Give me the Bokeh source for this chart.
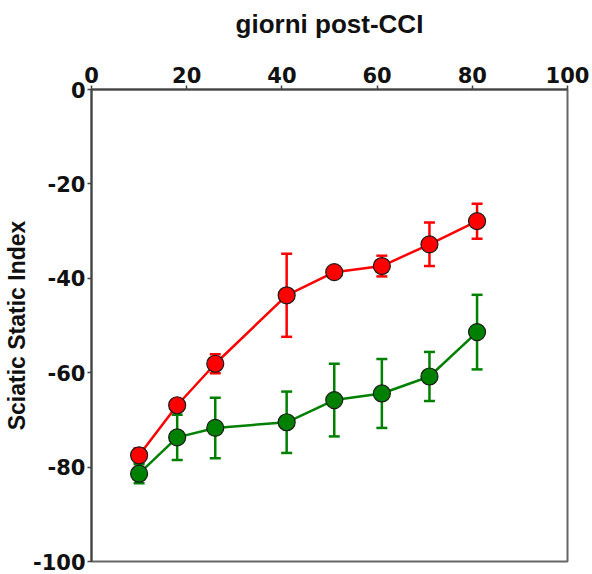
from bokeh.plotting import figure
from bokeh.models import Range1d, ColumnDataSource, Whisker, TeeHead, FixedTicker, PrintfTickFormatter
from bokeh.embed import file_html
from bokeh.resources import INLINE

days = [10, 18, 26, 41, 51, 61, 71, 81]
red_mean = [-77.5, -66.9, -58.1, -43.6, -38.7, -37.4, -32.8, -27.9]
red_err = [1.5, 1.0, 2.0, 8.8, 1.0, 2.2, 4.6, 3.7]
green_mean = [-81.4, -73.7, -71.7, -70.5, -65.8, -64.4, -60.8, -51.4]
green_err = [2.0, 4.8, 6.4, 6.5, 7.7, 7.3, 5.2, 7.9]
x_ticks = [0, 20, 40, 60, 80, 100]
y_ticks = [-100, -80, -60, -40, -20, 0]

TICK_FONT = "DejaVu Sans"
LABEL_FONT = "Liberation Sans"

p = figure(width=592, height=574, output_backend="svg", toolbar_location=None,
           x_range=Range1d(0, 100), y_range=Range1d(-100, 0),
           x_axis_location="above",
           min_border_left=90, min_border_top=89, min_border_right=25, min_border_bottom=13)
p.grid.visible = False
p.outline_line_color = "#666666"
p.outline_line_width = 2

p.xaxis.ticker = FixedTicker(ticks=x_ticks)
p.yaxis.ticker = FixedTicker(ticks=y_ticks)
p.xaxis.formatter = PrintfTickFormatter(format="%d")
p.yaxis.formatter = PrintfTickFormatter(format="%d")
p.xaxis.axis_label = "giorni post-CCI"
p.yaxis.axis_label = "Sciatic Static Index"
for ax in (p.xaxis[0], p.yaxis[0]):
    ax.axis_line_color = "#444444"
    ax.axis_line_width = 2
    ax.major_tick_line_color = "#444444"
    ax.major_tick_line_width = 1.5
    ax.major_tick_in = 0
    ax.major_tick_out = 4
    ax.minor_tick_line_color = None
    ax.major_label_text_font = TICK_FONT
    ax.major_label_text_font_size = "21px"
    ax.major_label_text_font_style = "bold"
    ax.major_label_text_color = "#111111"
    ax.axis_label_text_font = LABEL_FONT
    ax.axis_label_text_font_style = "bold"
    ax.axis_label_text_color = "#111111"
p.xaxis.axis_label_text_font_size = "26px"
p.yaxis.axis_label_text_font_size = "23px"
p.xaxis.major_label_standoff = 3
p.xaxis.axis_label_standoff = 25
p.yaxis.major_label_standoff = 2
p.yaxis.axis_label_standoff = 0

series = [("#ff0000", red_mean, red_err), ("#008000", green_mean, green_err)]
for color, mean, err in series:
    src = ColumnDataSource(dict(x=days, y=mean,
                                lo=[m - e for m, e in zip(mean, err)],
                                hi=[m + e for m, e in zip(mean, err)]))
    w = Whisker(source=src, base="x", upper="hi", lower="lo", dimension="height",
                line_color=color, line_width=2.5, level="underlay",
                upper_head=TeeHead(size=11, line_color=color, line_width=2.5),
                lower_head=TeeHead(size=11, line_color=color, line_width=2.5))
    p.add_layout(w)
    p.line("x", "y", source=src, line_color=color, line_width=2.5)
    p.scatter("x", "y", source=src, size=17, fill_color=color,
              line_color="#1a1a1a", line_width=1.2)

open("out.html", "w").write(file_html(p, INLINE))
